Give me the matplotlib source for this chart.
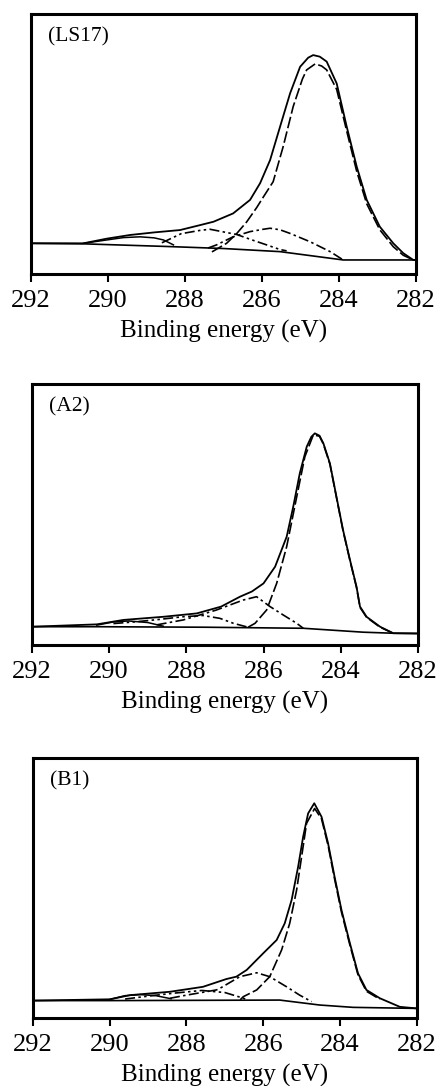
import numpy as np
import matplotlib
matplotlib.use("Agg")
import matplotlib.pyplot as plt

plt.rcParams['font.family'] = ['Liberation Serif', 'DejaVu Serif']

# --- C1s curve fits (x = binding energy, eV; y = arb. units) ---

# (LS17)
ls17_env_x = [292.0, 290.64, 290.03, 289.43, 288.8, 288.13, 287.61, 287.26, 286.75, 286.31, 286.05,
              285.79, 285.53, 285.27, 285.01, 284.8, 284.67, 284.5, 284.32, 284.06, 283.8, 283.54,
              283.28, 282.94, 282.59, 282.33, 282.07, 282.0]
ls17_env_y = [11.8, 11.8, 13.6, 15.0, 16.0, 16.9, 18.8, 20.1, 23.3, 28.5, 34.9,
              43.8, 56.7, 69.5, 79.7, 83.2, 84.2, 83.6, 81.7, 73.3, 56.7, 41.3,
              28.5, 18.2, 11.8, 8.0, 5.4, 5.3]
ls17_bg_x = [292.0, 290.64, 288.5, 287.0, 285.53, 283.89, 282.0]
ls17_bg_y = [11.8, 11.6, 10.6, 9.8, 8.6, 5.4, 5.4]
ls17_main_x = [287.3, 286.92, 286.66, 286.4, 286.14, 285.97, 285.71, 285.45, 285.19, 284.95, 284.84,
               284.62, 284.45, 284.32, 284.06, 283.8, 283.54, 283.28, 282.94, 282.59, 282.33, 282.07]
ls17_main_y = [8.5, 11.8, 15.5, 20.0, 25.5, 29.5, 35.5, 49.0, 64.4, 75.0, 78.5,
               80.8, 80.0, 78.5, 71.0, 55.0, 39.5, 27.0, 17.0, 10.5, 7.2, 5.4]
ls17_c2_x = [287.4, 287.18, 286.75, 286.31, 285.97, 285.79, 285.53, 285.27, 284.75, 284.23, 283.89]
ls17_c2_y = [10.0, 11.2, 14.3, 16.3, 17.2, 17.6, 17.0, 15.6, 12.4, 8.6, 5.4]
ls17_c3_x = [288.6, 288.1, 287.6, 287.35, 286.66, 286.2, 285.88, 285.53, 285.36]
ls17_c3_y = [12.0, 15.5, 16.8, 17.2, 15.2, 12.8, 11.2, 9.4, 8.9]
ls17_c4_x = [290.64, 290.03, 289.6, 289.17, 288.8, 288.56, 288.3]
ls17_c4_y = [11.8, 13.1, 14.0, 14.3, 13.9, 13.1, 11.2]

# (A2)
a2_env_x = [292.0, 290.32, 289.63, 288.6, 287.73, 287.1, 286.61, 286.3, 286.0, 285.7, 285.4,
            285.23, 285.06, 284.88, 284.76, 284.67, 284.55, 284.45, 284.28, 284.11, 283.94, 283.76,
            283.59, 283.5, 283.33, 282.98, 282.64, 282.0]
a2_env_y = [7.0, 7.9, 9.6, 10.8, 12.1, 14.7, 18.5, 20.5, 23.6, 30.0, 41.5,
            53.0, 65.8, 76.0, 79.8, 81.1, 80.2, 77.3, 69.6, 56.8, 44.1, 32.6,
            22.3, 14.7, 10.8, 7.0, 4.5, 4.4]
a2_bg_x = [292.0, 290.32, 287.5, 284.97, 283.42, 282.64, 282.0]
a2_bg_y = [7.0, 7.0, 6.8, 6.4, 4.9, 4.5, 4.4]
a2_main_x = [286.4, 286.22, 285.92, 285.66, 285.4, 285.14, 284.93, 284.71, 284.55, 284.45, 284.28,
             284.11, 283.94, 283.76, 283.59, 283.5, 283.33, 282.98, 282.64]
a2_main_y = [6.8, 8.3, 13.4, 23.6, 37.7, 56.8, 72.1, 80.5, 80.0, 77.0, 69.3,
             56.5, 43.8, 32.3, 22.0, 14.4, 10.6, 6.8, 4.5]
a2_c2_x = [288.77, 288.08, 287.22, 286.53, 286.18, 285.83, 285.49, 285.14, 284.97]
a2_c2_y = [7.7, 9.6, 13.4, 17.2, 18.5, 14.7, 11.5, 8.3, 6.4]
a2_c3_x = [289.89, 289.3, 288.7, 288.1, 287.57, 287.13, 286.78, 286.4]
a2_c3_y = [8.2, 8.9, 9.8, 10.8, 11.3, 10.2, 8.3, 6.8]
a2_c4_x = [290.32, 289.9, 289.5, 289.0, 288.6]
a2_c4_y = [7.6, 8.8, 9.2, 8.6, 7.2]

# (B1)
b1_env_x = [292.0, 289.99, 289.47, 288.43, 287.57, 286.96, 286.7, 286.43, 286.0, 285.65, 285.44,
            285.26, 285.09, 284.96, 284.83, 284.67, 284.48, 284.31, 284.14, 283.96, 283.74, 283.53,
            283.31, 282.96, 282.44, 282.0]
b1_env_y = [6.7, 7.2, 8.8, 10.1, 12.0, 15.0, 15.9, 18.5, 24.9, 30.0, 36.4,
            45.4, 58.2, 69.7, 78.7, 82.6, 77.4, 67.2, 54.3, 41.5, 28.7, 17.2,
            10.8, 7.6, 4.3, 3.7]
b1_bg_x = [292.0, 289.99, 285.57, 284.53, 283.66, 282.44, 282.0]
b1_bg_y = [6.7, 6.7, 6.9, 5.0, 4.1, 3.8, 3.7]
b1_main_x = [286.6, 286.52, 286.17, 285.83, 285.52, 285.31, 285.13, 285.0, 284.87, 284.66, 284.48,
             284.31, 284.14, 283.96, 283.74, 283.53, 283.31, 282.96]
b1_main_y = [7.0, 8.2, 10.8, 15.9, 26.2, 36.4, 49.2, 62.0, 74.9, 80.6, 76.6,
             66.4, 53.5, 40.7, 28.0, 16.6, 10.3, 7.2]
b1_c2_x = [288.43, 288.0, 287.22, 287.13, 286.61, 286.17, 285.83, 285.39, 285.05, 284.74]
b1_c2_y = [7.6, 8.8, 10.8, 11.4, 15.9, 17.4, 15.9, 12.0, 8.8, 6.3]
b1_c3_x = [289.6, 288.9, 288.3, 287.6, 287.0, 286.6, 286.4]
b1_c3_y = [7.3, 8.6, 9.6, 10.6, 9.8, 8.0, 7.0]
b1_c4_x = [289.99, 289.6, 289.2, 288.8, 288.4]
b1_c4_y = [7.2, 8.6, 9.0, 8.6, 7.4]

panels = [
    ("(LS17)", [0.0706, 0.7477, 0.877, 0.2394],
     (ls17_env_x, ls17_env_y), (ls17_bg_x, ls17_bg_y), (ls17_main_x, ls17_main_y),
     (ls17_c2_x, ls17_c2_y), (ls17_c3_x, ls17_c3_y), (ls17_c4_x, ls17_c4_y)),
    ("(A2)", [0.0729, 0.4061, 0.879, 0.2403],
     (a2_env_x, a2_env_y), (a2_bg_x, a2_bg_y), (a2_main_x, a2_main_y),
     (a2_c2_x, a2_c2_y), (a2_c3_x, a2_c3_y), (a2_c4_x, a2_c4_y)),
    ("(B1)", [0.0752, 0.0626, 0.874, 0.2394],
     (b1_env_x, b1_env_y), (b1_bg_x, b1_bg_y), (b1_main_x, b1_main_y),
     (b1_c2_x, b1_c2_y), (b1_c3_x, b1_c3_y), (b1_c4_x, b1_c4_y)),
]

xticks = [292, 290, 288, 286, 284, 282]

fig = plt.figure(figsize=(4.39, 10.86), dpi=100)

for label, rect, env, bg, main, c2, c3, c4 in panels:
    ax = fig.add_axes(rect)
    ax.plot(*env, color='black', lw=1.3, ls='-')
    ax.plot(*bg, color='black', lw=1.2, ls='-')
    ax.plot(*main, color='black', lw=1.2, ls=(0, (7, 2)))
    ax.plot(*c2, color='black', lw=1.2, ls=(0, (6, 2, 1.5, 2)))
    ax.plot(*c3, color='black', lw=1.2, ls=(0, (6, 2, 1.5, 2, 1.5, 2)))
    ax.plot(*c4, color='black', lw=1.1, ls='-')

    ax.set_xlim(292, 282)
    ax.set_ylim(0, 100)
    ax.set_xticks(xticks)
    ax.set_xticklabels([str(t) for t in xticks])
    ax.set_yticks([])
    ax.tick_params(axis='x', direction='out', length=5.5, width=1.5, labelsize=19, pad=6)
    for s in ax.spines.values():
        s.set_linewidth(2.2)
    ax.text(0.045, 0.95, label, transform=ax.transAxes, fontsize=15.5, va='top', ha='left')
    ax.set_xlabel("Binding energy (eV)", fontsize=18, labelpad=6)

fig.savefig("out.png", dpi=100)
